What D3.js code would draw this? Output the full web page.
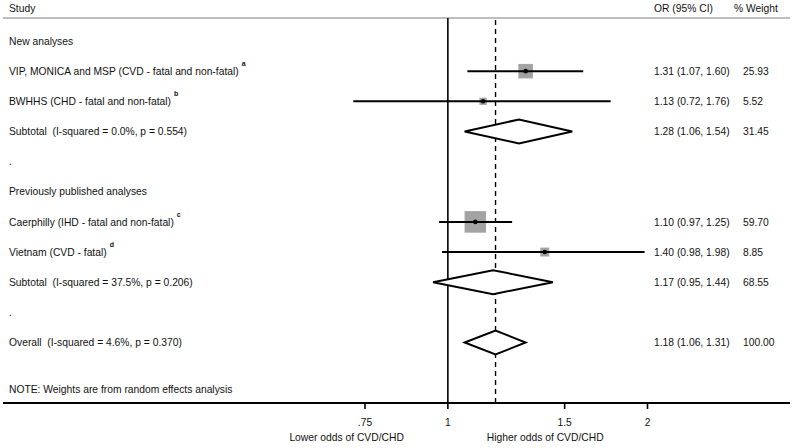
<!DOCTYPE html>
<html><head><meta charset="utf-8">
<script src="https://cdn.jsdelivr.net/npm/d3@7"></script>
<style>
html,body{margin:0;padding:0;background:#fff;}
text{font-family:"Liberation Sans",Arial,sans-serif;fill:#111;white-space:pre;}
</style></head>
<body>
<svg id="chart" width="793" height="448"></svg>
<script>
const labels = ["New analyses","VIP, MONICA and MSP (CVD - fatal and non-fatal)","BWHHS (CHD - fatal and non-fatal)","Subtotal  (I-squared = 0.0%, p = 0.554)",".","Previously published analyses","Caerphilly (IHD - fatal and non-fatal)","Vietnam (CVD - fatal)","Subtotal  (I-squared = 37.5%, p = 0.206)",".","Overall  (I-squared = 4.6%, p = 0.370)"];
const kinds = ["head","study","study","sub","blank","head","study","study","sub","blank","sub"];
const notes = ["","a","b","","","","c","d","","",""];
const orVals = [null,1.31,1.13,1.28,null,null,1.10,1.40,1.17,null,1.18];
const loVals = [null,1.07,0.72,1.06,null,null,0.97,0.98,0.95,null,1.06];
const hiVals = [null,1.60,1.76,1.54,null,null,1.25,1.98,1.44,null,1.31];
const weights = [null,25.93,5.52,31.45,null,null,59.70,8.85,68.55,null,100.00];
const tickVals = [0.75,1,1.5,2];
const tickLabels = [".75","1","1.5","2"];
const overallOR = 1.18;

const svg = d3.select("#chart");
const x = d3.scaleLog().domain([0.75,2]).range([365,647.5]);
const y = d3.scaleLinear().domain([0,10]).range([41,342.5]);
const box = d3.scaleSqrt().domain([0,100]).range([0,26.5]);
const fs = 10.3;
const f2 = d3.format(".2f");
const rows = labels.map((l,i)=>({l,i,k:kinds[i],n:notes[i],or:orVals[i],lo:loVals[i],hi:hiVals[i],w:weights[i]}));

// header
svg.append("text").attr("x",9).attr("y",8).attr("dy","0.35em").attr("font-size",fs).text("Study");
svg.append("text").attr("x",654).attr("y",8).attr("dy","0.35em").attr("font-size",fs).text("OR (95% CI)");
svg.append("text").attr("x",734).attr("y",8).attr("dy","0.35em").attr("font-size",fs).text("% Weight");
svg.append("line").attr("x1",3).attr("x2",790).attr("y1",18).attr("y2",18).attr("stroke","#a8a8a8").attr("stroke-width",1.5);

// reference lines
svg.append("line").attr("x1",x(1)).attr("x2",x(1)).attr("y1",18).attr("y2",403).attr("stroke","#000").attr("stroke-width",1.6);
svg.append("line").attr("x1",x(overallOR)).attr("x2",x(overallOR)).attr("y1",20).attr("y2",403).attr("stroke","#000").attr("stroke-width",1.4).attr("stroke-dasharray","5,4");

// labels
const lab = svg.append("g").selectAll("text").data(rows).join("text")
  .attr("x",9).attr("y",d=>y(d.i)).attr("dy","0.35em").attr("font-size",fs).text(d=>d.l);
lab.each(function(d){
  if(d.n){
    const w = this.getComputedTextLength();
    svg.append("text").attr("x",9+w+3).attr("y",y(d.i)-5).attr("font-size",7).attr("font-weight","bold").text(d.n);
  }
});

const est = rows.filter(d=>d.or!==null);
const st = est.filter(d=>d.k==="study");
svg.append("g").selectAll("rect").data(st).join("rect")
  .attr("x",d=>x(d.or)-box(d.w)/2).attr("y",d=>y(d.i)-box(d.w)/2)
  .attr("width",d=>box(d.w)).attr("height",d=>box(d.w))
  .attr("fill","#a3a3a3").attr("stroke","#a3a3a3").attr("stroke-width",1);
svg.append("g").selectAll("line").data(st).join("line")
  .attr("x1",d=>x(d.lo)).attr("x2",d=>x(d.hi)).attr("y1",d=>y(d.i)).attr("y2",d=>y(d.i))
  .attr("stroke","#000").attr("stroke-width",2);
svg.append("g").selectAll("circle").data(st).join("circle")
  .attr("cx",d=>x(d.or)).attr("cy",d=>y(d.i)).attr("r",2.3).attr("fill","#000");

// diamonds
const sb = est.filter(d=>d.k==="sub");
svg.append("g").selectAll("path").data(sb).join("path")
  .attr("d",d=>{const c=y(d.i),h=12;return `M${x(d.lo)},${c}L${x(d.or)},${c-h}L${x(d.hi)},${c}L${x(d.or)},${c+h}Z`;})
  .attr("fill","#fff").attr("stroke","#000").attr("stroke-width",2).attr("stroke-linejoin","miter");

// value columns
svg.append("g").selectAll("text").data(est).join("text")
  .attr("x",654).attr("y",d=>y(d.i)).attr("dy","0.35em").attr("font-size",fs)
  .text(d=>`${f2(d.or)} (${f2(d.lo)}, ${f2(d.hi)})`);
svg.append("g").selectAll("text").data(est).join("text")
  .attr("x",743).attr("y",d=>y(d.i)).attr("dy","0.35em").attr("font-size",fs)
  .text(d=>f2(d.w));

// note
svg.append("text").attr("x",9).attr("y",389).attr("dy","0.35em").attr("font-size",fs).text("NOTE: Weights are from random effects analysis");

// axis
svg.append("line").attr("x1",3).attr("x2",790).attr("y1",403).attr("y2",403).attr("stroke","#000").attr("stroke-width",2);
const ax = svg.append("g").selectAll("g").data(tickVals).join("g");
ax.append("line").attr("x1",d=>x(d)).attr("x2",d=>x(d)).attr("y1",403).attr("y2",409).attr("stroke","#000").attr("stroke-width",1.6);
ax.append("text").attr("x",d=>x(d)).attr("y",422).attr("dy","0.35em").attr("text-anchor","middle").attr("font-size",fs).text((d,i)=>tickLabels[i]);
svg.append("text").attr("x",x(1)-44).attr("y",437).attr("dy","0.35em").attr("text-anchor","end").attr("font-size",fs).text("Lower odds of CVD/CHD");
svg.append("text").attr("x",x(1)+39).attr("y",437).attr("dy","0.35em").attr("font-size",fs).text("Higher odds of CVD/CHD");
</script>
</body></html>
